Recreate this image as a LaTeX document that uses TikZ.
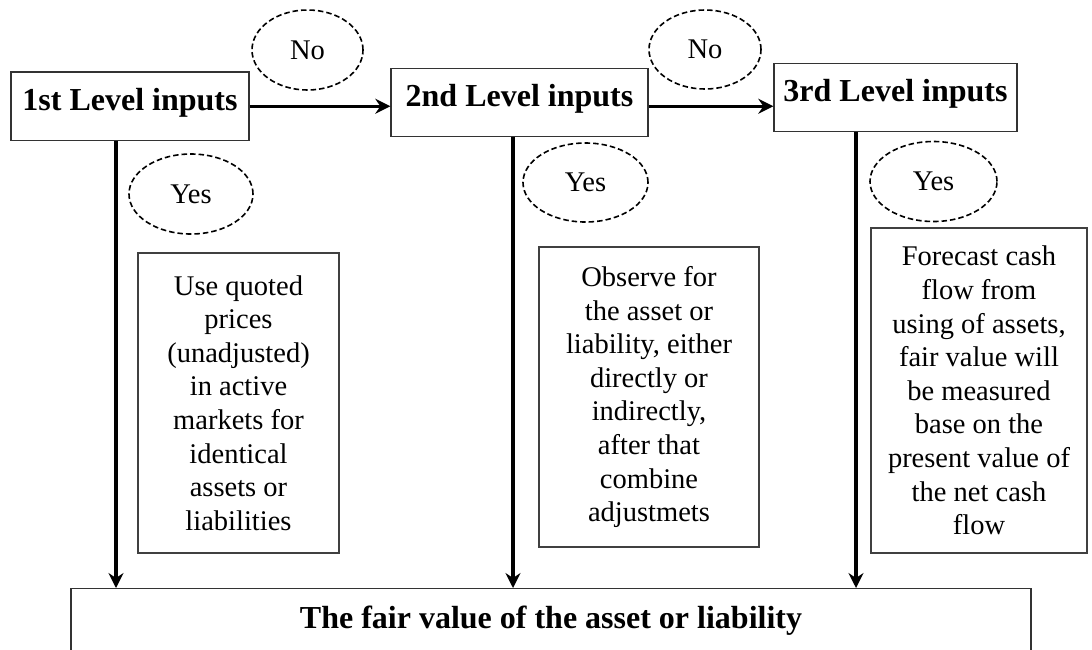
\documentclass[tikz,border=0pt]{standalone}
\usepackage{fontspec}
\setmainfont{Liberation Serif}
\usetikzlibrary{shapes.geometric,arrows.meta}

\tikzset{
  levelbox/.style={draw=black!80, line width=1.4pt, fill=white, inner xsep=0pt, inner ysep=0pt,
    font=\fontsize{32}{36}\selectfont\bfseries, text height=38.5pt, text depth=30pt},
  notebox/.style={draw=black!75, line width=1.4pt, fill=white, inner sep=0pt, align=center,
    font=\fontsize{28.5}{33.6}\selectfont},
  answer/.style={draw=black, dashed, dash pattern=on 5.5pt off 3pt, line width=1.6pt,
    ellipse, inner sep=0pt, font=\fontsize{28.5}{33.6}\selectfont},
  harrow/.style={line width=3pt, -{Stealth[length=15pt,width=15pt,inset=5pt]}},
  varrow/.style={line width=3.5pt, -{Stealth[length=15pt,width=15pt,inset=5pt]}},
}

\begin{document}
\begin{tikzpicture}[x=1pt,y=-1pt]
\useasboundingbox (0,0) rectangle (1092,649);
\clip (0,0) rectangle (1092,649);

% level boxes
\node[levelbox, minimum width=238pt] (b1) at (130,106.25) {1st Level inputs};
\node[levelbox, minimum width=257pt] (b2) at (519.5,102.5) {2nd Level inputs};
\node[levelbox, minimum width=243pt] (b3) at (895.5,97.5) {3rd Level inputs};

% result box (runs past the lower edge)
\node[levelbox, minimum width=960pt, text height=40pt, text depth=45pt, anchor=north]
  (fv) at (551,588) {The fair value of the asset or liability};

% answer bubbles
\node[answer, minimum width=111pt, minimum height=80pt] (no1) at (307.5,50) {No};
\node[answer, minimum width=112pt, minimum height=79pt] (no2) at (705,49.5) {No};
\node[answer, minimum width=124pt, minimum height=80pt] (y1) at (191,194) {Yes};
\node[answer, minimum width=125pt, minimum height=79pt] (y2) at (585.5,182.5) {Yes};
\node[answer, minimum width=127pt, minimum height=80pt] (y3) at (933.5,181.5) {Yes};

% explanation boxes
\node[notebox, minimum width=201pt, minimum height=300pt] (n1) at (238.5,403)
  {Use quoted\\prices\\(unadjusted)\\in active\\markets for\\identical\\assets or\\liabilities};
\node[notebox, minimum width=220pt, minimum height=300pt] (n2) at (649,397)
  {Observe for\\the asset or\\liability, either\\directly or\\indirectly,\\after that\\combine\\adjustmets};
\node[notebox, minimum width=216pt, minimum height=325pt] (n3) at (979,390.5)
  {Forecast cash\\flow from\\using of assets,\\fair value will\\be measured\\base on the\\present value of\\the net cash\\flow};

% "No" path between levels
\draw[harrow] (b1.east) -- (b2.west |- b1.east);
\draw[harrow] (b2.east |- b1.east) -- (b3.west |- b1.east);

% "Yes" paths down to the result
\coordinate (x1) at (116,0);
\coordinate (x2) at (513,0);
\coordinate (x3) at (856,0);
\draw[varrow] (b1.south -| x1) -- (fv.north -| x1);
\draw[varrow] (b2.south -| x2) -- (fv.north -| x2);
\draw[varrow] (b3.south -| x3) -- (fv.north -| x3);
\end{tikzpicture}
\end{document}
